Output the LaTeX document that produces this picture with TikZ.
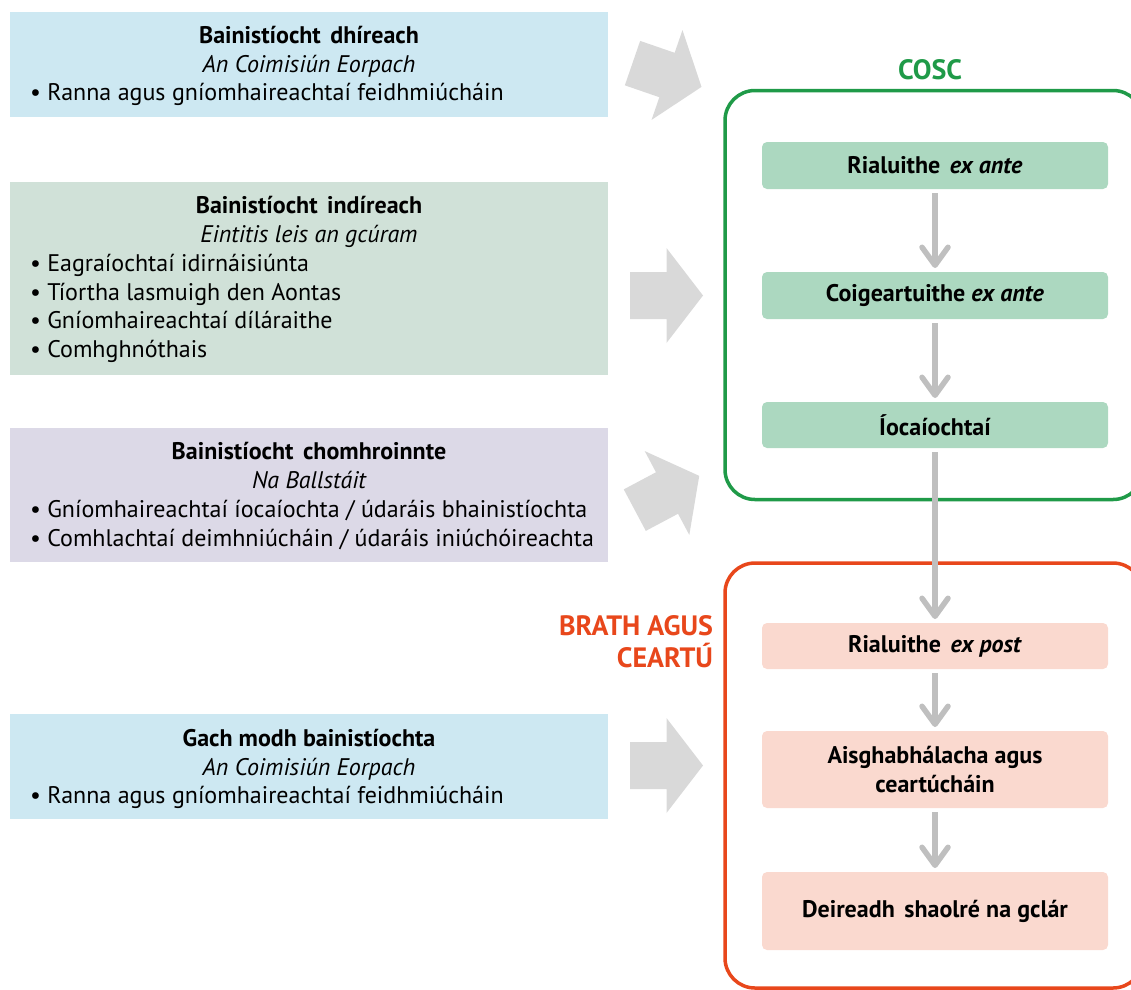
\documentclass[tikz,border=0pt]{standalone}
\usepackage{fontspec}
\setmainfont{PT Sans}
\usetikzlibrary{arrows.meta}
\definecolor{bluebox}{HTML}{CDE8F2}
\definecolor{greenbg}{HTML}{D0E1D8}
\definecolor{lilac}{HTML}{DCD9E7}
\definecolor{greenstep}{HTML}{ACD8C0}
\definecolor{redstep}{HTML}{FAD9CF}
\definecolor{coscgreen}{HTML}{1F9A48}
\definecolor{brathred}{HTML}{E8471B}
\definecolor{bigarrow}{HTML}{D9D9D9}
\definecolor{conngray}{HTML}{BFBFBF}
\newcommand\fatarrow[3]{\fill[bigarrow, shift={(#1,#2)}, rotate=#3] (-36.5,-23.5) -- (0,-23.5) -- (0,-47.5) -- (36.5,0) -- (0,47.5) -- (0,23.5) -- (-36.5,23.5) -- cycle;}
\begin{document}
\begin{tikzpicture}[x=1pt,y=-1pt,
  every node/.style={inner sep=0pt, outer sep=0pt},
  panel/.style={minimum width=598pt, anchor=north west},
  ttl/.style={anchor=base, font=\fontsize{24}{29}\selectfont\bfseries},
  sub/.style={anchor=base, font=\fontsize{24}{29}\selectfont\itshape},
  bul/.style={anchor=base west, font=\fontsize{24}{29}\selectfont},
  stepg/.style={fill=greenstep, rounded corners=5pt, minimum width=346pt, font=\fontsize{24}{29}\selectfont\bfseries, align=center},
  stepr/.style={fill=redstep, rounded corners=5pt, minimum width=346pt, font=\fontsize{24}{29}\selectfont\bfseries, align=center},
  frame/.style={rounded corners=30pt, line width=3.5pt},
  conn/.style={draw=conngray, line width=5.5pt, -{Straight Barb[length=18pt,width=26pt,round]}, shorten <=4pt, shorten >=4pt},
  lbl/.style={font=\fontsize{28}{32}\selectfont\bfseries}
]
\useasboundingbox (0,0) rectangle (1131,989);
\clip (0,0) rectangle (1131,989);

% left panels
\node[panel, fill=bluebox, minimum height=105pt] (p1) at (10,12) {};
\node[panel, fill=greenbg, minimum height=193pt] (p2) at (10,182) {};
\node[panel, fill=lilac, minimum height=134pt] (p3) at (10,428) {};
\node[panel, fill=bluebox, minimum height=105pt] (p4) at (10,714) {};

\node[ttl] (p1t) at (309,43) {Bainistíocht\hspace{0.4em}dhíreach};
\node[sub] (p1s) at (309,72) {An Coimisiún Eorpach};
\node[bul] (p1a) at (30,100.5) {• Ranna agus gníomhaireachtaí feidhmiúcháin};

\node[ttl] (p2t) at (309,213) {Bainistíocht\hspace{0.4em}indíreach};
\node[sub] (p2s) at (309,242) {Eintitis leis an gcúram};
\node[bul] (p2a) at (30,271) {• Eagraíochtaí idirnáisiúnta};
\node[bul] (p2b) at (30,300) {• Tíortha lasmuigh den Aontas};
\node[bul] (p2c) at (30,328) {• Gníomhaireachtaí díláraithe};
\node[bul] (p2d) at (30,357) {• Comhghnóthais};

\node[ttl] (p3t) at (309,459) {Bainistíocht\hspace{0.4em}chomhroinnte};
\node[sub] (p3s) at (309,488) {Na Ballstáit};
\node[bul] (p3a) at (30,517) {• Gníomhaireachtaí íocaíochta / údaráis bhainistíochta};
\node[bul] (p3b) at (30,546) {• Comhlachtaí deimhniúcháin / údaráis iniúchóireachta};

\node[ttl] (p4t) at (309,746) {Gach modh bainistíochta};
\node[sub] (p4s) at (309,775) {An Coimisiún Eorpach};
\node[bul] (p4a) at (30,803) {• Ranna agus gníomhaireachtaí feidhmiúcháin};

% big arrows
\fatarrow{667}{75}{-19}
\fatarrow{666.5}{295.5}{0}
\fatarrow{667}{493}{28}
\fatarrow{666.5}{765.5}{0}

% frames
\node[frame, draw=coscgreen, minimum width=418pt, minimum height=409pt, anchor=north west] (cosc) at (725,90.5) {};
\node[frame, draw=brathred, minimum width=418pt, minimum height=425pt, anchor=north west] (brath) at (725,563) {};

\node[lbl, text=coscgreen] (cosclbl) at (930,70) {COSC};
\node[lbl, text=brathred, align=right, anchor=east] (brathlbl) at (713,642) {BRATH AGUS\\CEARTÚ};

% steps
\node[stepg, minimum height=47pt] (s1) at (935,165.5) {Rialuithe\hspace{0.4em}\textit{ex ante}};
\node[stepg, minimum height=47pt] (s2) at (935,295.5) {Coigeartuithe \textit{ex ante}};
\node[stepg, minimum height=46pt] (s3) at (935,425) {Íocaíochtaí};
\node[stepr, minimum height=46pt] (s4) at (935,646) {Rialuithe\hspace{0.4em}\textit{ex post}};
\node[stepr, minimum height=77pt] (s5) at (935,769.5) {Aisghabhálacha agus\\ceartúcháin};
\node[stepr, minimum height=78pt] (s6) at (935,911) {Deireadh\hspace{0.4em}shaolré na gclár};

\draw[conn] (s1) -- (s2);
\draw[conn] (s2) -- (s3);
\draw[conn] (s3) -- (s4);
\draw[conn] (s4) -- (s5);
\draw[conn] (s5) -- (s6);
\end{tikzpicture}
\end{document}
